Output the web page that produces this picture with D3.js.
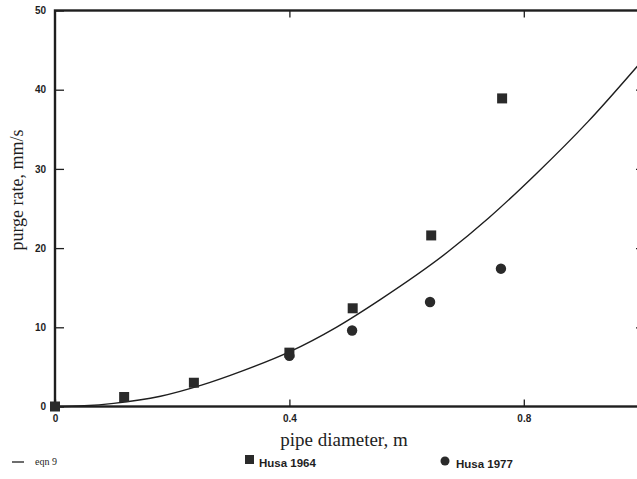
<!DOCTYPE html>
<html>
<head>
<meta charset="utf-8">
<script src="https://cdn.jsdelivr.net/npm/d3@7"></script>
<style>
  html, body { margin: 0; padding: 0; background: #fff; }
  svg { display: block; }
</style>
</head>
<body>
<div id="idMyCanvas"></div>
<script>
// Data
// -------------------
let husa1964_x = [0, 0.118, 0.237, 0.40, 0.508, 0.642, 0.763];
let husa1964_y = [0, 1.2, 3.0, 6.8, 12.4, 21.6, 38.9];

let husa1977_x = [0.40, 0.507, 0.640, 0.761];
let husa1977_y = [6.4, 9.6, 13.2, 17.4];

// eqn 9 curve
let eqn9_x = [0, 0.05, 0.10, 0.18, 0.25, 0.32, 0.40, 0.48, 0.555, 0.67, 0.74, 0.82, 0.91, 1.0];
let eqn9_y = [0, 0.1, 0.4, 1.3, 2.7, 4.5, 6.9, 10.0, 13.5, 19.5, 23.8, 29.3, 36.0, 43.5];

let x_ticks = [0, 0.4, 0.8];
let y_ticks = [0, 10, 20, 30, 40, 50];
// -------------------

let width = 637;
let height = 479;

let svg_obj = d3.select("#idMyCanvas")
                .append("svg")
                  .attr("width", width)
                  .attr("height", height)
                  .attr("viewBox", [0, 0, width, height].join(" "));

let ink = "#1e1e1e";

let x_scale = d3.scaleLinear().domain([0, 1.0]).range([55, 641]);
let y_scale = d3.scaleLinear().domain([0, 50]).range([406.5, 10.5]);

// Frame
// -------------------
svg_obj.append("rect")
  .attr("x", x_scale(0))
  .attr("y", y_scale(50))
  .attr("width", x_scale(1.0) - x_scale(0))
  .attr("height", y_scale(0) - y_scale(50))
  .attr("fill", "none")
  .attr("stroke", ink)
  .attr("stroke-width", 2.4);

// Axes (ticks point inward)
// -------------------
let tick_font = "'Liberation Sans', Arial, sans-serif";

let x_axis_b = svg_obj.append("g")
  .attr("transform", `translate(0,${y_scale(0)})`)
  .call(d3.axisBottom(x_scale).tickValues(x_ticks).tickSizeInner(-7).tickSizeOuter(0)
        .tickPadding(8).tickFormat(d => d === 0 ? "0" : d3.format(".1f")(d)));
x_axis_b.select(".domain").remove();

let x_axis_t = svg_obj.append("g")
  .attr("transform", `translate(0,${y_scale(50)})`)
  .call(d3.axisTop(x_scale).tickValues(x_ticks.filter(d => d > 0)).tickSizeInner(-7).tickSizeOuter(0).tickFormat(""));
x_axis_t.select(".domain").remove();

let y_axis_l = svg_obj.append("g")
  .attr("transform", `translate(${x_scale(0)},0)`)
  .call(d3.axisLeft(y_scale).tickValues(y_ticks).tickSizeInner(-9).tickSizeOuter(0).tickPadding(9));
y_axis_l.select(".domain").remove();

let y_axis_r = svg_obj.append("g")
  .attr("transform", `translate(${x_scale(1.0)},0)`)
  .call(d3.axisRight(y_scale).tickValues(y_ticks.filter(d => d > 0 && d < 50)).tickSizeInner(-5).tickSizeOuter(0).tickFormat(""));
y_axis_r.select(".domain").remove();

svg_obj.selectAll(".tick line").attr("stroke", ink).attr("stroke-width", 1.3);
svg_obj.selectAll(".tick text")
  .attr("fill", ink)
  .style("font-family", tick_font)
  .style("font-weight", "bold")
  .style("font-size", "10px");

// Curve eqn 9
// -------------------
let eqn9_pts = eqn9_x.map((d, i) => [d, eqn9_y[i]]);
svg_obj.append("path")
  .datum(eqn9_pts)
  .attr("fill", "none")
  .attr("stroke", ink)
  .attr("stroke-width", 1.4)
  .attr("d", d3.line().x(d => x_scale(d[0])).y(d => y_scale(d[1])).curve(d3.curveMonotoneX));

// Markers
// -------------------
let sq = 10;
svg_obj.append("g")
  .selectAll("rect")
  .data(husa1964_x.map((d, i) => [d, husa1964_y[i]]))
  .join("rect")
    .attr("x", d => x_scale(d[0]) - sq / 2)
    .attr("y", d => y_scale(d[1]) - sq / 2)
    .attr("width", sq)
    .attr("height", sq)
    .attr("fill", "#2a2a2a");

svg_obj.append("g")
  .selectAll("circle")
  .data(husa1977_x.map((d, i) => [d, husa1977_y[i]]))
  .join("circle")
    .attr("cx", d => x_scale(d[0]))
    .attr("cy", d => y_scale(d[1]))
    .attr("r", 5.2)
    .attr("fill", "#2a2a2a");

// Axis titles
// -------------------
let serif = "'Liberation Serif', 'Times New Roman', serif";

svg_obj.append("text")
  .attr("x", 344)
  .attr("y", 446)
  .attr("text-anchor", "middle")
  .attr("fill", ink)
  .style("font-family", serif)
  .style("font-size", "19px")
  .text("pipe diameter, m");

svg_obj.append("text")
  .attr("transform", "translate(23,190) rotate(-90)")
  .attr("text-anchor", "middle")
  .attr("fill", ink)
  .style("font-family", serif)
  .style("font-size", "18px")
  .text("purge rate, mm/s");

// Legend
// -------------------
let legend_y = 465;
svg_obj.append("line")
  .attr("x1", 12).attr("x2", 24)
  .attr("y1", legend_y - 3).attr("y2", legend_y - 3)
  .attr("stroke", ink).attr("stroke-width", 1.3);
svg_obj.append("text")
  .attr("x", 35).attr("y", legend_y)
  .attr("fill", ink)
  .style("font-family", serif)
  .style("font-size", "10px")
  .text("eqn 9");

svg_obj.append("rect")
  .attr("x", 245).attr("y", legend_y - 10)
  .attr("width", 9).attr("height", 9)
  .attr("fill", "#2a2a2a");
svg_obj.append("text")
  .attr("x", 259).attr("y", legend_y + 2)
  .attr("fill", ink)
  .style("font-family", tick_font)
  .style("font-weight", "bold")
  .style("font-size", "11.5px")
  .text("Husa 1964");

svg_obj.append("circle")
  .attr("cx", 445).attr("cy", legend_y - 4)
  .attr("r", 4.5)
  .attr("fill", "#2a2a2a");
svg_obj.append("text")
  .attr("x", 456).attr("y", legend_y + 3)
  .attr("fill", ink)
  .style("font-family", tick_font)
  .style("font-weight", "bold")
  .style("font-size", "11.5px")
  .text("Husa 1977");
</script>
</body>
</html>
